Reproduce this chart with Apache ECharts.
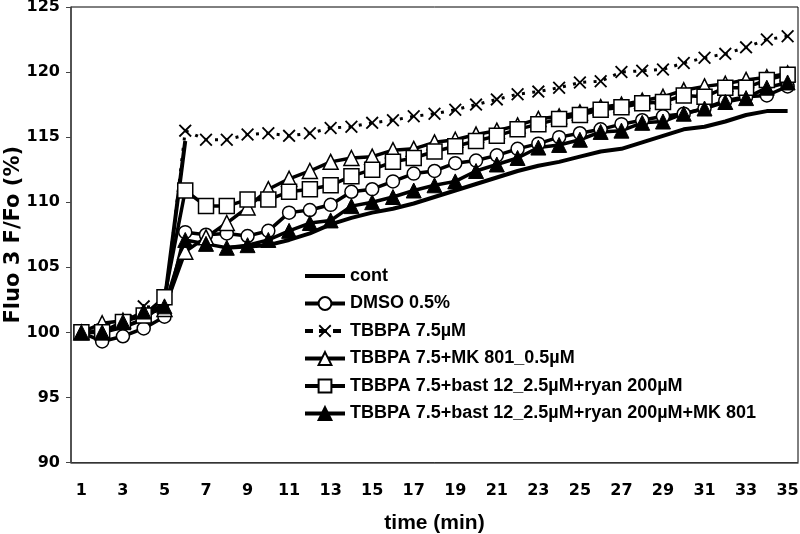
<!DOCTYPE html>
<html>
<head>
<meta charset="utf-8">
<script src="https://cdn.jsdelivr.net/npm/echarts@6/dist/echarts.min.js"></script>
<style>html,body{margin:0;padding:0;background:#fff}#c{width:800px;height:534px}</style>
</head>
<body>
<div id="c"></div>
<script>
var categories = ['1','2','3','4','5','6','7','8','9','10','11','12','13','14','15','16','17','18','19','20','21','22','23','24','25','26','27','28','29','30','31','32','33','34','35'];
var seriesNames = ['cont','DMSO 0.5%','TBBPA 7.5\u00b5M','TBBPA 7.5+MK 801_0.5\u00b5M','TBBPA 7.5+bast 12_2.5\u00b5M+ryan 200\u00b5M','TBBPA 7.5+bast 12_2.5\u00b5M+ryan 200\u00b5M+MK 801'];
var cont = [100.0,100.0,100.4,101.0,102.3,114.7,null,106.5,106.6,106.7,107.1,107.6,108.3,108.8,109.2,109.5,109.9,110.4,110.9,111.4,111.9,112.4,112.8,113.1,113.5,113.9,114.1,114.6,115.1,115.6,115.8,116.2,116.7,117.0,117.0];
var dmso = [100.0,99.3,99.7,100.3,101.2,107.7,107.5,107.6,107.4,107.8,109.2,109.4,109.8,110.8,111.0,111.6,112.2,112.4,113.0,113.2,113.6,114.1,114.5,115.0,115.3,115.6,116.0,116.3,116.6,116.8,117.2,117.8,118.1,118.2,118.9];
var tbbpa = [100.0,100.2,100.7,102.0,101.8,115.5,114.8,114.8,115.2,115.3,115.1,115.3,115.7,115.8,116.1,116.3,116.6,116.8,117.1,117.5,117.9,118.3,118.5,118.8,119.2,119.3,120.0,120.1,120.2,120.7,121.1,121.4,121.9,122.5,122.75];
var tbbpaMk = [100.0,100.7,100.9,101.4,101.8,106.2,107.3,108.4,109.6,111.0,111.8,112.4,113.1,113.4,113.5,114.0,114.1,114.6,114.8,115.2,115.5,115.9,116.4,116.6,116.9,117.3,117.5,117.8,118.1,118.6,118.9,119.1,119.4,119.6,119.9];
var tbbpaBast = [100.0,100.0,100.8,101.3,102.7,110.9,109.7,109.7,110.2,110.2,110.8,111.0,111.3,112.0,112.5,113.1,113.4,113.9,114.3,114.7,115.1,115.6,116.0,116.4,116.7,117.1,117.3,117.6,117.7,118.2,118.1,118.8,118.8,119.4,119.8];
var tbbpaBastMk = [100.0,100.0,100.8,101.6,102.0,107.1,106.8,106.5,106.7,107.1,107.8,108.4,108.6,109.7,110.0,110.4,110.9,111.3,111.6,112.4,112.9,113.4,114.2,114.4,114.8,115.4,115.5,116.1,116.2,116.8,117.2,117.7,118.0,118.8,119.2];
var yTicks = {min: 90, max: 125, interval: 5};

var FONT = "'Liberation Sans', Arial, sans-serif";
var WIDE = "'DejaVu Sans', sans-serif";
var xPath = 'path://M0,1L1,0L5,4L9,0L10,1L6,5L10,9L9,10L5,6L1,10L0,9L4,5Z';
var openStyle = {color: '#fff', borderColor: '#000', borderWidth: 1.5};
var legLine = {width: 4, color: '#000'};

var chart = echarts.init(document.getElementById('c'), null, {renderer: 'canvas'});
chart.setOption({
  animation: false,
  backgroundColor: '#fff',
  grid: {left: 71, right: 2, top: 7, bottom: 71.5, show: true, borderColor: '#000', borderWidth: 1, outerBoundsMode: 'none', containLabel: false},
  legend: {
    orient: 'vertical', left: 298, top: 262,
    itemWidth: 40, itemHeight: 16, itemGap: 9.5,
    textStyle: {fontFamily: FONT, fontWeight: 'bold', fontSize: 18, color: '#000'},
    data: [
      {name: seriesNames[0], icon: 'path://M0,0L40,0L40,4L0,4Z'},
      {name: seriesNames[1], lineStyle: legLine},
      {name: seriesNames[2], lineStyle: {type: [8, 6], width: 4, color: '#000'}},
      {name: seriesNames[3], lineStyle: legLine},
      {name: seriesNames[4], lineStyle: legLine},
      {name: seriesNames[5], lineStyle: legLine}
    ]
  },
  xAxis: {
    type: 'category', data: categories, boundaryGap: true,
    name: 'time (min)', nameLocation: 'middle', nameGap: 50, nameMoveOverlap: false,
    nameTextStyle: {fontFamily: FONT, fontWeight: 'bold', fontSize: 21, color: '#000'},
    axisLine: {lineStyle: {color: '#444', width: 1.5}},
    axisTick: {interval: 1, length: 5, lineStyle: {color: '#444'}},
    axisLabel: {interval: 1, margin: 20, fontFamily: WIDE, fontWeight: 'bold', fontSize: 16, color: '#000'},
    splitLine: {show: false}
  },
  yAxis: {
    type: 'value', min: yTicks.min, max: yTicks.max, interval: yTicks.interval,
    name: 'Fluo 3 F/Fo (%)', nameLocation: 'middle', nameGap: 47, nameMoveOverlap: false,
    nameTextStyle: {fontFamily: WIDE, fontWeight: 'bold', fontSize: 21, color: '#000'},
    axisLine: {show: true, lineStyle: {color: '#444', width: 1.5}},
    axisTick: {show: true, length: 5, lineStyle: {color: '#444'}},
    axisLabel: {margin: 11, fontFamily: WIDE, fontWeight: 'bold', fontSize: 16, color: '#000'},
    splitLine: {show: false}
  },
  series: [
    {name: seriesNames[0], type: 'line', data: cont, symbol: 'none', connectNulls: false,
     lineStyle: {color: '#000', width: 4}, itemStyle: {color: '#000'}},
    {name: seriesNames[1], type: 'line', data: dmso, symbol: 'circle', symbolSize: 13, showAllSymbol: true,
     lineStyle: {color: '#000', width: 3.5}, itemStyle: openStyle},
    {name: seriesNames[2], type: 'line', data: tbbpa, symbol: xPath, symbolSize: 13, showAllSymbol: true,
     lineStyle: {color: '#000', width: 3, type: [3, 7.4]}, itemStyle: {color: '#000'}},
    {name: seriesNames[3], type: 'line', data: tbbpaMk, symbol: 'triangle', symbolSize: 15, showAllSymbol: true,
     lineStyle: {color: '#000', width: 3.5}, itemStyle: openStyle},
    {name: seriesNames[4], type: 'line', data: tbbpaBast, symbol: 'rect', symbolSize: 15, showAllSymbol: true,
     lineStyle: {color: '#000', width: 3.5}, itemStyle: openStyle},
    {name: seriesNames[5], type: 'line', data: tbbpaBastMk, symbol: 'triangle', symbolSize: 15, showAllSymbol: true,
     lineStyle: {color: '#000', width: 3.5}, itemStyle: {color: '#000', borderColor: '#000', borderWidth: 1}}
  ]
});
</script>
</body>
</html>
